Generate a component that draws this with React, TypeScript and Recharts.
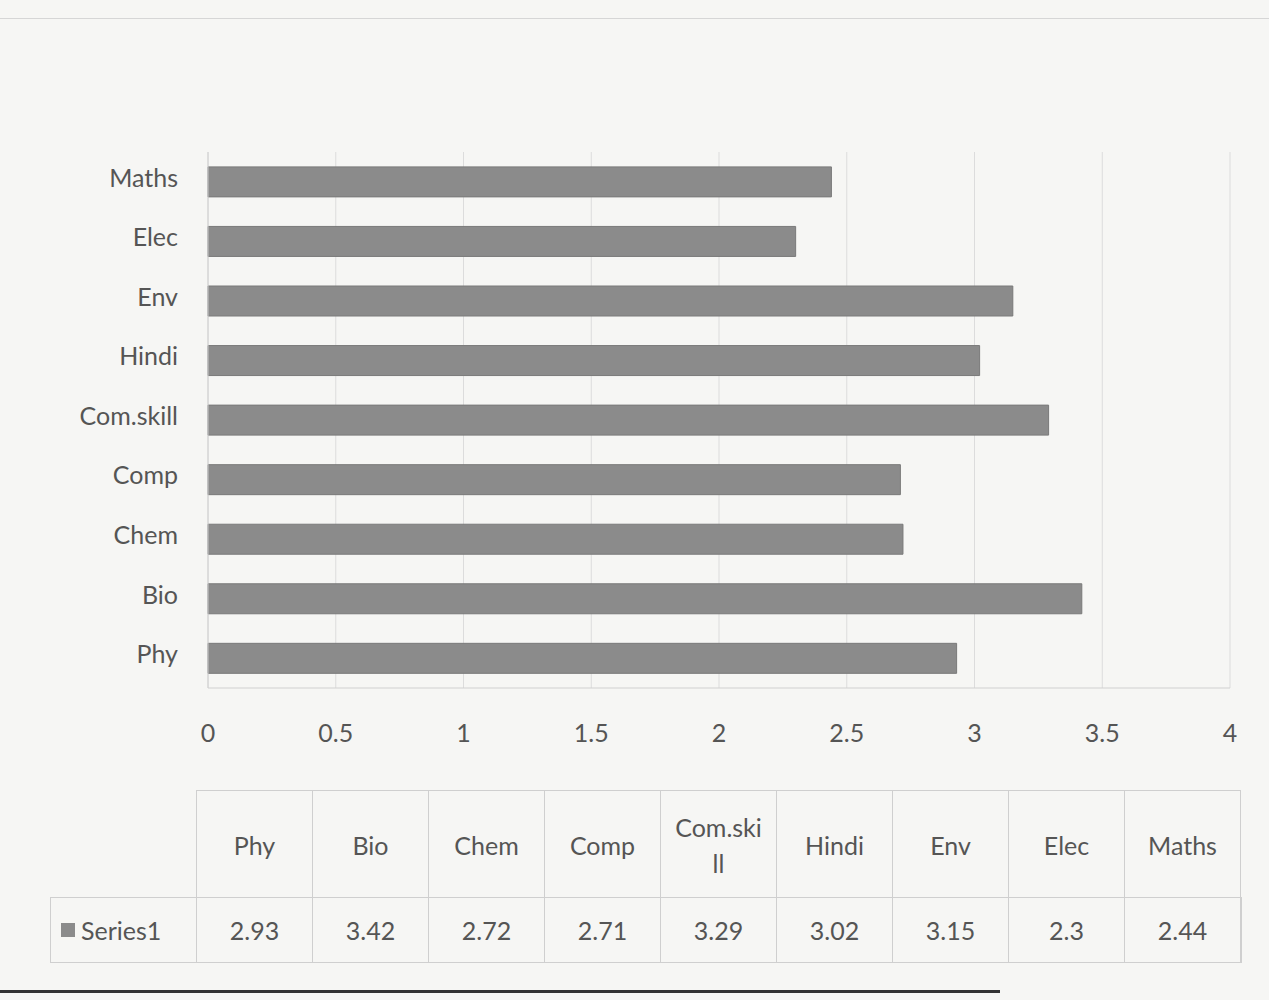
import { BarChart, Bar, XAxis, YAxis, CartesianGrid } from 'recharts';

const subjects = ['Phy', 'Bio', 'Chem', 'Comp', 'Com.skill', 'Hindi', 'Env', 'Elec', 'Maths'];
const tableHeads = ['Phy', 'Bio', 'Chem', 'Comp', 'Com.ski\nll', 'Hindi', 'Env', 'Elec', 'Maths'];
const series1 = [2.93, 3.42, 2.72, 2.71, 3.29, 3.02, 3.15, 2.3, 2.44];
const xTicks = [0, 0.5, 1, 1.5, 2, 2.5, 3, 3.5, 4];

const FONT = 'Lato, "Open Sans", sans-serif';
const TEXT = '#555';

const rows = subjects.map((name, i) => ({ name, value: series1[i] }));

export default function App() {
  const colW = 116;
  const tableLeft = 196;
  return (
    <div
      style={{
        position: 'absolute',
        left: 0,
        top: 0,
        width: 1269,
        height: 1000,
        background: '#f6f6f4',
        fontFamily: FONT,
        overflow: 'hidden',
      }}
    >
      <div style={{ position: 'absolute', left: 0, top: 18, width: 1269, height: 1, background: '#d6d6d6' }} />
      <BarChart
        width={1269}
        height={1000}
        data={rows}
        layout="vertical"
        barCategoryGap="25%"
        margin={{ top: 152, right: 39, left: 28, bottom: 252 }}
      >
        <CartesianGrid horizontal={false} stroke="#dcdcdc" />
        <XAxis
          type="number"
          domain={[0, 4]}
          ticks={xTicks}
          interval={0}
          axisLine={{ stroke: '#d0d0d0' }}
          tickLine={false}
          tickSize={0}
          tickMargin={36}
          height={60}
          tick={{ fill: TEXT, fontSize: 25, fontFamily: FONT }}
        />
        <YAxis
          type="category"
          dataKey="name"
          reversed
          width={180}
          axisLine={{ stroke: '#d0d0d0' }}
          tickLine={false}
          tickSize={0}
          tickMargin={30}
          tick={{ fill: TEXT, fontSize: 25, fontFamily: FONT, dy: -4 }}
        />
        <Bar dataKey="value" fill="#8b8b8b" stroke="#7a7a7a" isAnimationActive={false} />
      </BarChart>

      {/* data table under the chart */}
      <div
        style={{
          position: 'absolute',
          left: tableLeft,
          top: 790,
          width: colW * tableHeads.length,
          height: 107,
          display: 'flex',
          borderTop: '1px solid #cfcfcf',
          borderLeft: '1px solid #cfcfcf',
        }}
      >
        {tableHeads.map((h) => (
          <div
            key={h}
            style={{
              width: colW,
              height: 107,
              boxSizing: 'border-box',
              borderRight: '1px solid #cfcfcf',
              display: 'flex',
              alignItems: 'center',
              justifyContent: 'center',
              textAlign: 'center',
              whiteSpace: 'pre-line',
              color: TEXT,
              fontSize: 25,
              lineHeight: '36px',
              padding: '0 4px',
            }}
          >
            {h}
          </div>
        ))}
      </div>
      <div
        style={{
          position: 'absolute',
          left: 50,
          top: 897,
          height: 66,
          display: 'flex',
          border: '1px solid #cfcfcf',
          boxSizing: 'border-box',
        }}
      >
        <div
          style={{
            width: tableLeft - 50,
            display: 'flex',
            alignItems: 'center',
            gap: 6,
            paddingLeft: 10,
            boxSizing: 'border-box',
            color: TEXT,
            fontSize: 25,
            borderRight: '1px solid #cfcfcf',
          }}
        >
          <span style={{ width: 14, height: 14, background: '#8b8b8b', display: 'inline-block' }} />
          Series1
        </div>
        {series1.map((v, i) => (
          <div
            key={i}
            style={{
              width: colW,
              boxSizing: 'border-box',
              borderRight: '1px solid #cfcfcf',
              display: 'flex',
              alignItems: 'center',
              justifyContent: 'center',
              color: TEXT,
              fontSize: 25,
            }}
          >
            {v}
          </div>
        ))}
      </div>
      <div style={{ position: 'absolute', left: 0, top: 990, width: 1000, height: 3, background: '#333' }} />
    </div>
  );
}
